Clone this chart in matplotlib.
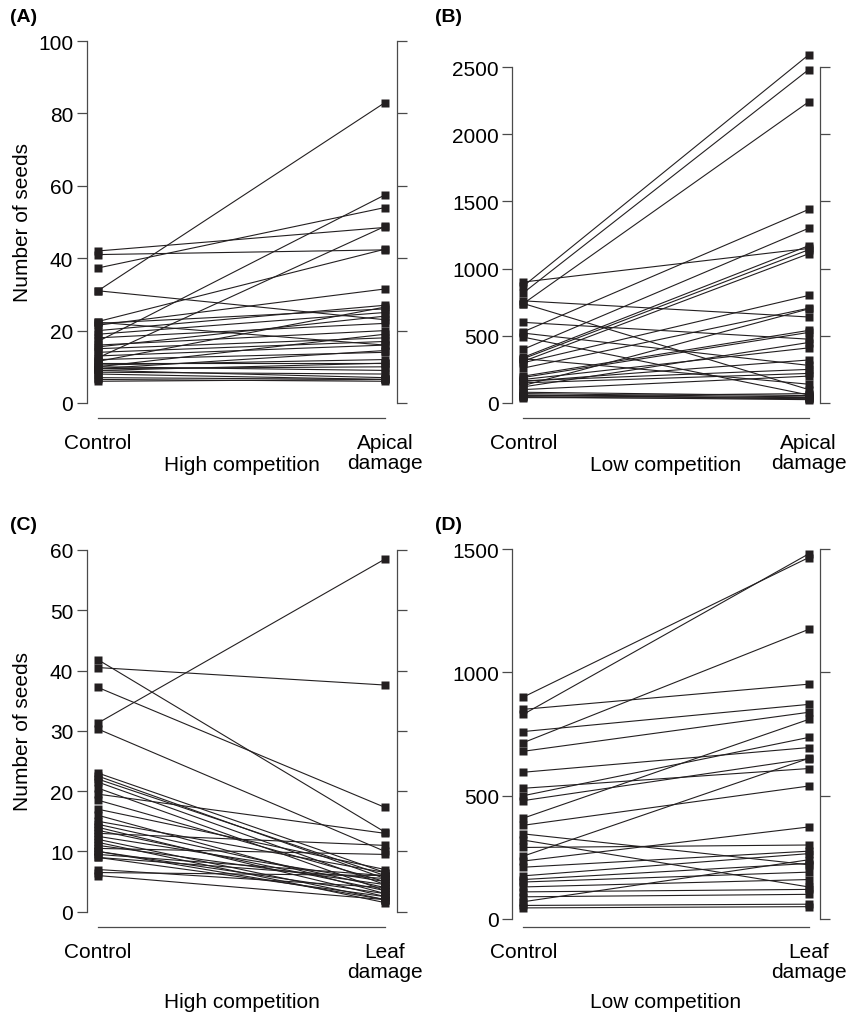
import matplotlib
matplotlib.use("Agg")
import matplotlib.pyplot as plt

plt.rcParams['font.family'] = ['Liberation Sans', 'DejaVu Sans']

W, H = 855, 1020
INK = '#231f20'
AXC = '#4a4a4a'

# (A) high competition, apical damage
ctrl_a = [42, 41, 37.3, 31, 31, 22.5, 22.3, 22, 21.5, 20, 19, 18, 17, 16, 15.5, 15, 14,
          13, 12.5, 12, 11.5, 11, 10.5, 10, 10, 9.5, 9.5, 9, 9, 8.5, 8, 7, 6.5, 6]
dmg_a = [48.5, 42.3, 54, 83, 23, 42.5, 16, 26, 31.5, 27, 25, 22, 57.5, 20, 24, 18, 17,
         16, 48.8, 14, 26.5, 11, 12, 19, 9, 10, 14.5, 11, 7, 8, 6.5, 6.5, 6, 6.5]

# (B) low competition, apical damage
ctrl_b = [870, 820, 740, 900, 760, 740, 600, 530, 520, 490, 400, 340, 330, 310, 300, 330,
          260, 200, 190, 175, 165, 150, 130, 120, 80, 70, 60, 55, 50, 45, 40, 160, 100]
dmg_b = [2590, 2480, 2240, 1150, 640, 100, 475, 1440, 280, 60, 1300, 1170, 1140, 1110, 800,
         140, 705, 540, 525, 410, 250, 220, 700, 450, 55, 45, 30, 40, 70, 25, 35, 320, 200]

# (C) high competition, leaf damage
ctrl_c = [41.8, 40.5, 37.2, 31.3, 30.3, 23, 22.5, 22, 21.5, 20.5, 19.5, 18.5, 17, 16, 15,
          14.5, 14, 13.5, 13, 12.5, 12, 11.5, 11, 10.5, 10, 10, 9.5, 9, 9, 7, 6.5, 6]
dmg_c = [13.2, 37.6, 17.3, 58.5, 10, 6.5, 5.5, 6, 4.5, 3.5, 13, 5, 7, 3, 6.5,
         4, 2.5, 3.5, 11, 5, 2, 1.5, 4.5, 9.5, 3, 2, 6, 5.5, 2.5, 4, 6, 2]

# (D) low competition, leaf damage
ctrl_d = [900, 830, 850, 760, 715, 680, 595, 530, 500, 480, 409, 380, 345, 320, 290,
          255, 235, 210, 175, 160, 150, 130, 110, 90, 70, 55, 45]
dmg_d = [1465, 1480, 952, 870, 1174, 838, 695, 610, 736, 650, 809, 539, 220, 130, 300,
         651, 373, 275, 265, 225, 190, 160, 120, 100, 240, 60, 50]

yticks_a = [0, 20, 40, 60, 80, 100]
yticks_b = [0, 500, 1000, 1500, 2000, 2500]
yticks_c = [0, 10, 20, 30, 40, 50, 60]
yticks_d = [0, 500, 1000, 1500]


def panel(fig, xl, xr, y0, ytoppx, ybot, ytop_ax, ctrl, dmg, yticks, right_lab,
          xlab, xlab_off, tag, ylab):
    ymax = yticks[-1]
    scale = (y0 - ytoppx) / ymax
    ax = fig.add_axes([xl / W, 1 - ybot / H, (xr - xl) / W, (ybot - ytop_ax) / H])
    ax.set_xlim(-0.04, 1.04)
    ax.set_ylim(-(ybot - y0) / scale, (y0 - ytop_ax) / scale)
    for c, d in zip(ctrl, dmg):
        ax.plot([0, 1], [c, d], color=INK, lw=0.8, marker='s', ms=6.2,
                mec='none', mfc=INK, clip_on=False)
    ax.spines['top'].set_visible(False)
    for s in ['left', 'right', 'bottom']:
        ax.spines[s].set_color(AXC)
        ax.spines[s].set_linewidth(0.9)
    ax.spines['left'].set_bounds(0, ymax)
    ax.spines['right'].set_bounds(0, ymax)
    ax.spines['bottom'].set_bounds(0, 1)
    ax.set_yticks(yticks)
    ax.tick_params(axis='y', which='both', direction='out', length=7.5, width=0.9,
                   color=AXC, right=True, labelright=False, labelsize=15, pad=2)
    ax.set_xticks([0, 1])
    ax.set_xticklabels(['Control', right_lab])
    ax.tick_params(axis='x', length=0, labelsize=15, pad=11)
    for t in ax.get_xticklabels():
        t.set_linespacing(1.05)
    fig.text((xl + xr) / 2 / W, 1 - (ybot + xlab_off) / H, xlab, ha='center',
             va='center', fontsize=15)
    fig.text((xl - 77) / W, 1 - (ytop_ax - 19) / H, tag, ha='left', va='center',
             fontsize=14, fontweight='bold')
    if ylab:
        fig.text(22 / W, 1 - (y0 + ytoppx) / 2 / H, ylab, rotation=90,
                 ha='center', va='center', fontsize=15)
    return ax


fig = plt.figure(figsize=(W / 100, H / 100), dpi=100)
panel(fig, 86.5, 396.5, 404, 42, 419, 36, ctrl_a, dmg_a, yticks_a,
      'Apical\ndamage', 'High competition', 47, '(A)', 'Number of seeds')
panel(fig, 512, 820, 404, 68, 419, 36, ctrl_b, dmg_b, yticks_b,
      'Apical\ndamage', 'Low competition', 47, '(B)', None)
panel(fig, 86.5, 396.5, 912.7, 551, 928, 545, ctrl_c, dmg_c, yticks_c,
      'Leaf\ndamage', 'High competition', 75, '(C)', 'Number of seeds')
panel(fig, 512, 820, 920, 550, 928, 545, ctrl_d, dmg_d, yticks_d,
      'Leaf\ndamage', 'Low competition', 75, '(D)', None)

fig.savefig('out.png', dpi=100)
